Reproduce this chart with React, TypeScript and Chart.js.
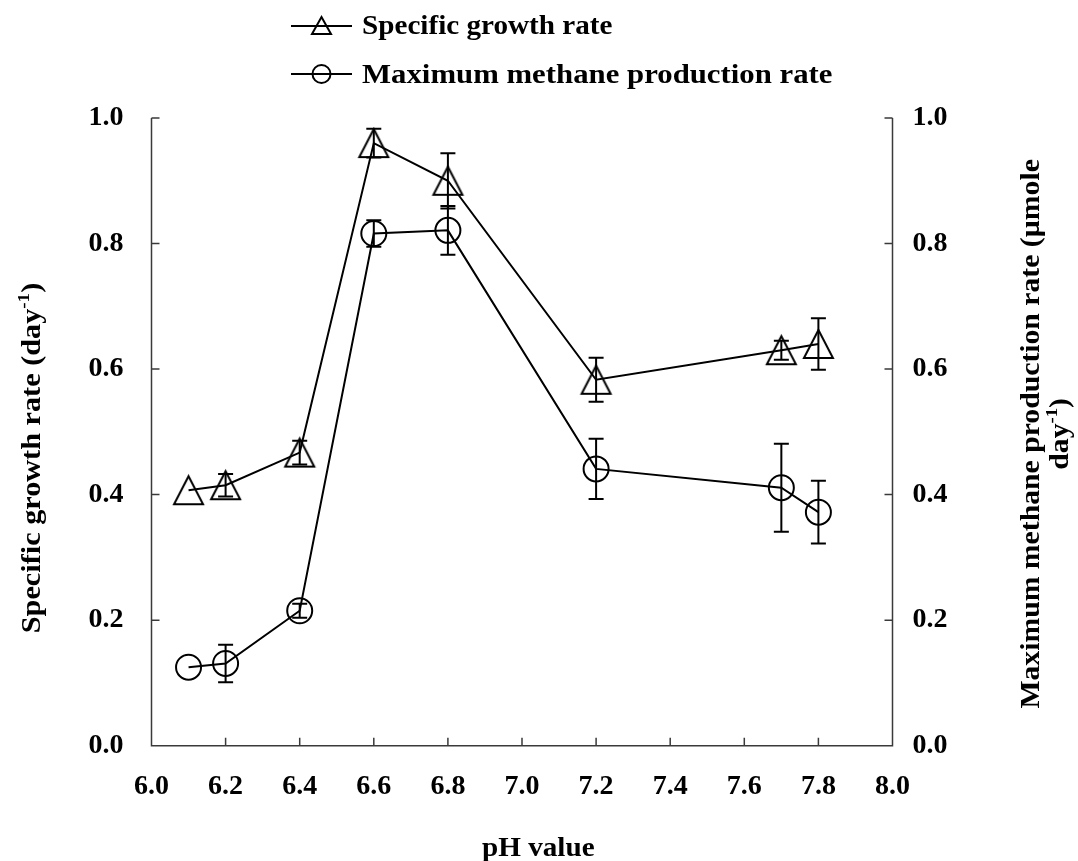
import React, { useEffect, useRef } from "react";
import { Chart, registerables } from "chart.js";

Chart.register(...registerables);

// pH of each culture
const phValues = [6.1, 6.2, 6.4, 6.6, 6.8, 7.2, 7.7, 7.8];
// specific growth rate (day^-1) and its standard deviation
const growthRate = [0.407, 0.415, 0.467, 0.96, 0.9, 0.583, 0.63, 0.64];
const growthErr = [0, 0.018, 0.019, 0.023, 0.044, 0.035, 0.015, 0.041];
// maximum methane production rate (µmole day^-1) and its standard deviation
const methaneRate = [0.125, 0.131, 0.215, 0.816, 0.821, 0.441, 0.411, 0.372];
const methaneErr = [0, 0.03, 0.011, 0.021, 0.039, 0.048, 0.07, 0.05];

// axis ranges
const xRange = [6.0, 8.0];
const xStep = 0.2;
const yRange = [0.0, 1.0];
const yStep = 0.2;

const seriesNames = ["Specific growth rate", "Maximum methane production rate"];

const FONT_FAMILY = '"Liberation Serif", "Times New Roman", serif';
const TICK_FONT = { family: FONT_FAMILY, size: 28, weight: "bold" };
const W = 1078;
const H = 861;
const AREA = { left: 151.5, right: 892.5, top: 118, bottom: 745.7 };
const INK = "#000";
const AXIS_INK = "#3a3a3a";

function makeTriangle(w: number, h: number, lw: number): HTMLCanvasElement {
  const pad = 3;
  const c = document.createElement("canvas");
  c.width = Math.ceil(w + pad * 2);
  c.height = Math.ceil(h + pad * 2);
  const g = c.getContext("2d")!;
  const cx = c.width / 2;
  const cy = c.height / 2;
  g.beginPath();
  g.moveTo(cx, cy - h / 2);
  g.lineTo(cx + w / 2, cy + h / 2);
  g.lineTo(cx - w / 2, cy + h / 2);
  g.closePath();
  g.lineWidth = lw;
  g.strokeStyle = INK;
  g.lineJoin = "miter";
  g.stroke();
  return c;
}

type Part = { text: string; sup?: boolean };

// draws a run of text (with optional superscripts) starting or centred at the
// current origin, stretched horizontally by sx
function drawRich(
  ctx: CanvasRenderingContext2D,
  parts: Part[],
  size: number,
  align: "center" | "left",
  sx: number
) {
  const main = `bold ${size}px ${FONT_FAMILY}`;
  const small = `bold ${Math.round(size * 0.62)}px ${FONT_FAMILY}`;
  let total = 0;
  const widths = parts.map((p) => {
    ctx.font = p.sup ? small : main;
    const w = ctx.measureText(p.text).width;
    total += w;
    return w;
  });
  ctx.save();
  ctx.scale(sx, 1);
  ctx.textAlign = "left";
  let x = align === "center" ? -total / 2 : 0;
  parts.forEach((p, i) => {
    ctx.font = p.sup ? small : main;
    ctx.fillText(p.text, x, p.sup ? -size * 0.4 : 0);
    x += widths[i];
  });
  ctx.restore();
}

const errorBars = {
  id: "errorBars",
  afterDatasetsDraw(chart: any) {
    const ctx: CanvasRenderingContext2D = chart.ctx;
    const xScale = chart.scales.x;
    ctx.save();
    ctx.strokeStyle = INK;
    ctx.lineWidth = 2;
    chart.data.datasets.forEach((ds: any, i: number) => {
      const meta = chart.getDatasetMeta(i);
      const yScale = chart.scales[meta.yAxisID];
      ds.data.forEach((p: any, j: number) => {
        const e = ds.errors[j];
        if (!e) return;
        const x = xScale.getPixelForValue(p.x);
        const y1 = yScale.getPixelForValue(p.y + e);
        const y2 = yScale.getPixelForValue(p.y - e);
        const cap = 7.5;
        ctx.beginPath();
        ctx.moveTo(x, y1);
        ctx.lineTo(x, y2);
        ctx.moveTo(x - cap, y1);
        ctx.lineTo(x + cap, y1);
        ctx.moveTo(x - cap, y2);
        ctx.lineTo(x + cap, y2);
        ctx.stroke();
      });
    });
    ctx.restore();
  },
};

const frame = {
  id: "frame",
  beforeDatasetsDraw(chart: any) {
    const ctx: CanvasRenderingContext2D = chart.ctx;
    const { left, right, bottom, top } = chart.chartArea;
    const tl = 8;
    ctx.save();
    ctx.strokeStyle = AXIS_INK;
    ctx.lineWidth = 1.5;
    ctx.beginPath();
    ctx.moveTo(left, top);
    ctx.lineTo(left, bottom);
    ctx.lineTo(right, bottom);
    ctx.lineTo(right, top);
    chart.scales.x.ticks.forEach((t: any) => {
      const x = chart.scales.x.getPixelForValue(t.value);
      ctx.moveTo(x, bottom);
      ctx.lineTo(x, bottom - tl);
    });
    chart.scales.y.ticks.forEach((t: any) => {
      const y = chart.scales.y.getPixelForValue(t.value);
      ctx.moveTo(left, y);
      ctx.lineTo(left + tl, y);
    });
    chart.scales.y1.ticks.forEach((t: any) => {
      const y = chart.scales.y1.getPixelForValue(t.value);
      ctx.moveTo(right, y);
      ctx.lineTo(right - tl, y);
    });
    ctx.stroke();
    ctx.restore();
  },
};

const annotations = {
  id: "annotations",
  afterDraw(chart: any) {
    const ctx: CanvasRenderingContext2D = chart.ctx;
    const { top, bottom } = chart.chartArea;
    ctx.save();
    ctx.fillStyle = INK;
    ctx.strokeStyle = INK;
    ctx.textBaseline = "alphabetic";

    // legend
    const legendX0 = 291;
    const legendX1 = 352;
    const legendRows = [26, 74];
    const textX = 362;
    const baselines = [34, 83];
    const stretch = [1.08, 1.14];
    legendRows.forEach((y, i) => {
      ctx.lineWidth = 2;
      ctx.beginPath();
      ctx.moveTo(legendX0, y);
      ctx.lineTo(legendX1, y);
      ctx.stroke();
      const cx = (legendX0 + legendX1) / 2;
      ctx.beginPath();
      if (i === 0) {
        ctx.moveTo(cx, y - 9);
        ctx.lineTo(cx + 9.5, y + 8);
        ctx.lineTo(cx - 9.5, y + 8);
        ctx.closePath();
      } else {
        ctx.arc(cx, y, 9, 0, Math.PI * 2);
      }
      ctx.stroke();
      ctx.save();
      ctx.translate(textX, baselines[i]);
      drawRich(ctx, [{ text: seriesNames[i] }], 27, "left", stretch[i]);
      ctx.restore();
    });

    // x-axis title
    ctx.save();
    ctx.translate(482, 856);
    drawRich(ctx, [{ text: "pH value" }], 27, "left", 1.08);
    ctx.restore();

    // left axis title
    ctx.save();
    ctx.translate(40, 458);
    ctx.rotate(-Math.PI / 2);
    drawRich(
      ctx,
      [{ text: "Specific growth rate (day" }, { text: "-1", sup: true }, { text: ")" }],
      27,
      "center",
      1.12
    );
    ctx.restore();

    // right axis title, two lines
    ctx.save();
    ctx.translate(1039, (top + bottom) / 2 + 2);
    ctx.rotate(-Math.PI / 2);
    drawRich(ctx, [{ text: "Maximum methane production rate (µmole" }], 27, "center", 1.1);
    ctx.translate(0, 29);
    drawRich(ctx, [{ text: "day" }, { text: "-1", sup: true }, { text: ")" }], 27, "center", 1.1);
    ctx.restore();

    ctx.restore();
  },
};

export default function App() {
  const canvasRef = useRef<HTMLCanvasElement | null>(null);

  useEffect(() => {
    const canvas = canvasRef.current;
    if (!canvas) return;

    const triangle = makeTriangle(29, 28, 2);
    const fmt = (v: any) => Number(v).toFixed(1);

    const chart = new Chart(canvas, {
      type: "line",
      data: {
        datasets: [
          {
            label: seriesNames[0],
            data: phValues.map((x, i) => ({ x, y: growthRate[i] })),
            errors: growthErr,
            yAxisID: "y",
            borderColor: INK,
            borderWidth: 2,
            backgroundColor: "transparent",
            pointStyle: triangle,
            pointRadius: 14,
            pointBorderWidth: 2,
            pointBorderColor: INK,
            pointBackgroundColor: "transparent",
            tension: 0,
          } as any,
          {
            label: seriesNames[1],
            data: phValues.map((x, i) => ({ x, y: methaneRate[i] })),
            errors: methaneErr,
            yAxisID: "y1",
            borderColor: INK,
            borderWidth: 2,
            backgroundColor: "transparent",
            pointStyle: "circle",
            pointRadius: 12.5,
            pointBorderWidth: 2,
            pointBorderColor: INK,
            pointBackgroundColor: "transparent",
            tension: 0,
          } as any,
        ],
      },
      options: {
        responsive: false,
        animation: false,
        events: [],
        layout: { padding: { top: AREA.top, left: 0, right: 0, bottom: 0 } },
        plugins: {
          legend: { display: false },
          tooltip: { enabled: false },
          title: { display: false },
        },
        scales: {
          x: {
            type: "linear",
            min: xRange[0],
            max: xRange[1],
            grid: { display: false, drawTicks: false },
            border: { display: false },
            ticks: {
              stepSize: xStep,
              padding: 24,
              color: INK,
              font: TICK_FONT,
              callback: fmt,
              maxRotation: 0,
              autoSkip: false,
            },
            afterFit: (s: any) => {
              s.height = H - AREA.bottom;
            },
          },
          y: {
            type: "linear",
            position: "left",
            min: yRange[0],
            max: yRange[1],
            grid: { display: false, drawTicks: false },
            border: { display: false },
            ticks: {
              stepSize: yStep,
              padding: 28,
              color: INK,
              font: TICK_FONT,
              callback: fmt,
            },
            afterFit: (s: any) => {
              s.width = AREA.left;
            },
          },
          y1: {
            type: "linear",
            position: "right",
            min: yRange[0],
            max: yRange[1],
            grid: { display: false, drawTicks: false },
            border: { display: false },
            ticks: {
              stepSize: yStep,
              padding: 20,
              color: INK,
              font: TICK_FONT,
              callback: fmt,
            },
            afterFit: (s: any) => {
              s.width = W - AREA.right;
            },
          },
        },
      } as any,
      plugins: [frame, errorBars, annotations],
    });

    return () => chart.destroy();
  }, []);

  return (
    <div style={{ position: "fixed", left: 0, top: 0, width: W, height: H, background: "#fff" }}>
      <canvas ref={canvasRef} width={W} height={H} style={{ display: "block" }} />
    </div>
  );
}
